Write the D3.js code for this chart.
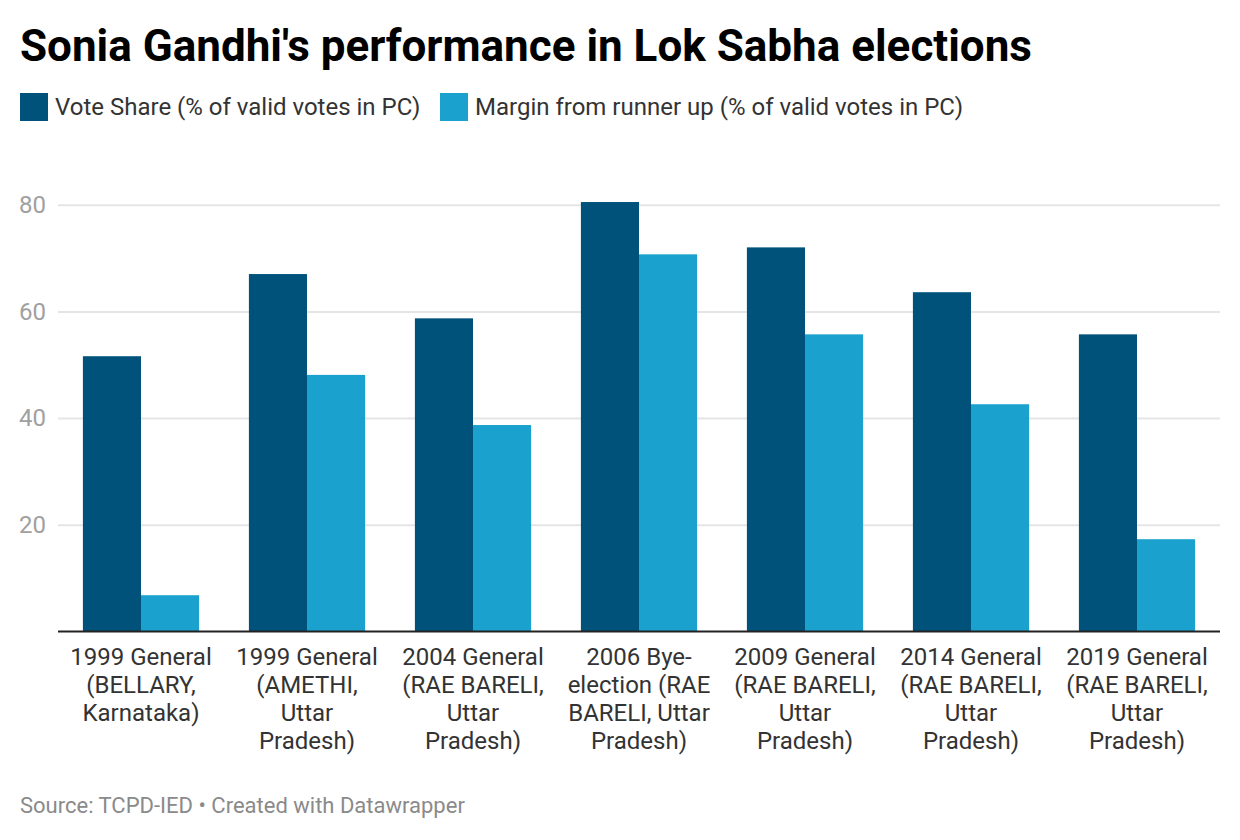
<!DOCTYPE html>
<html>
<head>
<meta charset="utf-8">
<script src="https://cdn.jsdelivr.net/npm/d3@7"></script>
<style>
  body { margin: 0; background: #fff; }
  svg { font-family: Roboto, "Noto Sans", sans-serif; }
</style>
</head>
<body>
<div id="chart"></div>
<script>
// categories (tick labels, already broken into lines the way the reference wraps them)
var categories = [
    ["1999 General", "(BELLARY,", "Karnataka)"],
    ["1999 General", "(AMETHI,", "Uttar", "Pradesh)"],
    ["2004 General", "(RAE BARELI,", "Uttar", "Pradesh)"],
    ["2006 Bye-", "election (RAE", "BARELI, Uttar", "Pradesh)"],
    ["2009 General", "(RAE BARELI,", "Uttar", "Pradesh)"],
    ["2014 General", "(RAE BARELI,", "Uttar", "Pradesh)"],
    ["2019 General", "(RAE BARELI,", "Uttar", "Pradesh)"]
];
var seriesNames = ["Vote Share (% of valid votes in PC)", "Margin from runner up (% of valid votes in PC)"];
var voteShare = [51.6, 67.0, 58.7, 80.5, 72.0, 63.6, 55.7];
var margin = [6.8, 48.1, 38.7, 70.7, 55.7, 42.6, 17.3];
var yTicks = [20, 40, 60, 80];
var colors = ["#01527a", "#1aa1ce"];

var width = 1240, height = 840;
var plotLeft = 58, plotRight = 1220, plotTop = 204.7, plotBottom = 631.5;

var svg = d3.select("#chart").append("svg")
    .attr("width", width)
    .attr("height", height);

svg.append("text")
    .attr("x", 20).attr("y", 61)
    .attr("font-size", 44)
    .attr("font-weight", 700)
    .attr("fill", "#000")
    .text("Sonia Gandhi's performance in Lok Sabha elections");

// legend
var legendX = [20, 440];
seriesNames.forEach(function (name, i) {
    svg.append("rect")
        .attr("x", legendX[i]).attr("y", 93)
        .attr("width", 28).attr("height", 28)
        .attr("fill", colors[i]);
    svg.append("text")
        .attr("x", legendX[i] + 35).attr("y", 115)
        .attr("font-size", 24)
        .attr("fill", "#333")
        .text(name);
});

var keys = categories.map(function (d, i) { return i; });

var x = d3.scaleBand()
    .domain(keys)
    .range([plotLeft, plotRight])
    .paddingInner(0.3)
    .paddingOuter(0.15);

var xSub = d3.scaleBand()
    .domain([0, 1])
    .range([0, x.bandwidth()]);

var y = d3.scaleLinear()
    .domain([0, 80])
    .range([plotBottom, plotTop]);

// grid + y labels
var yAxis = svg.append("g")
    .attr("transform", "translate(" + plotLeft + ",0)")
    .call(d3.axisLeft(y).tickValues(yTicks).tickSize(-(plotRight - plotLeft)).tickPadding(12));
yAxis.select(".domain").remove();
yAxis.selectAll(".tick line").attr("stroke", "#e5e5e5").attr("stroke-width", 2);
yAxis.selectAll(".tick text")
    .attr("font-size", 24)
    .attr("font-family", "Roboto, sans-serif")
    .attr("fill", "#a0a0a0");

// bars
var rows = keys.map(function (i) { return [voteShare[i], margin[i]]; });

svg.append("g")
    .selectAll("g")
    .data(rows)
    .join("g")
    .attr("transform", function (d, i) { return "translate(" + x(i) + ",0)"; })
    .selectAll("rect")
    .data(function (d) { return d; })
    .join("rect")
    .attr("x", function (d, j) { return xSub(j); })
    .attr("y", function (d) { return y(d); })
    .attr("width", xSub.bandwidth())
    .attr("height", function (d) { return y(0) - y(d); })
    .attr("fill", function (d, j) { return colors[j]; });

// baseline
svg.append("line")
    .attr("x1", plotLeft).attr("x2", plotRight)
    .attr("y1", y(0)).attr("y2", y(0))
    .attr("stroke", "#222")
    .attr("stroke-width", 2);

// x labels
var xLabels = svg.append("g")
    .selectAll("text")
    .data(categories)
    .join("text")
    .attr("x", function (d, i) { return x(i) + x.bandwidth() / 2; })
    .attr("y", 665)
    .attr("text-anchor", "middle")
    .attr("font-size", 24)
    .attr("fill", "#333");

xLabels.selectAll("tspan")
    .data(function (d) { return d; })
    .join("tspan")
    .attr("x", function () { return d3.select(this.parentNode).attr("x"); })
    .attr("dy", function (d, j) { return j === 0 ? 0 : 28; })
    .text(function (d) { return d; });

svg.append("text")
    .attr("x", 20).attr("y", 813)
    .attr("font-size", 22)
    .attr("fill", "#8a8a8a")
    .text("Source: TCPD-IED \u2022 Created with Datawrapper");
</script>
</body>
</html>
